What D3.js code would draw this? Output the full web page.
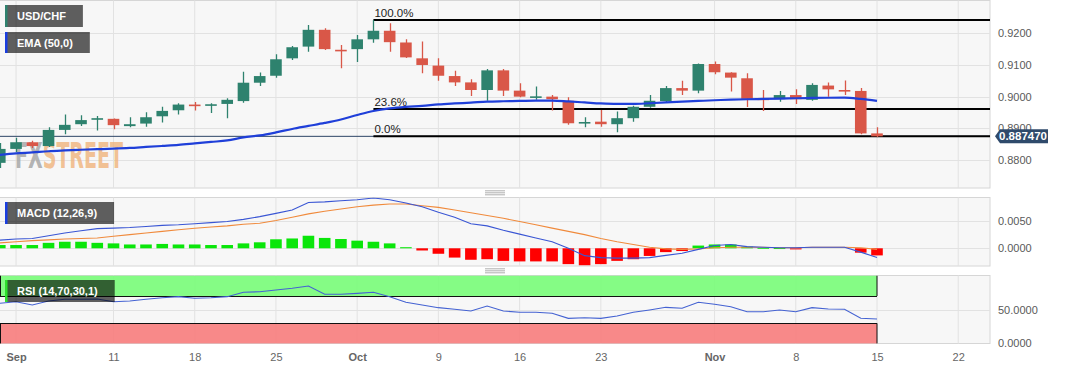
<!DOCTYPE html>
<html>
<head>
<meta charset="utf-8">
<script src="https://cdnjs.cloudflare.com/ajax/libs/d3/7.8.5/d3.min.js"></script>
<style>
html, body { margin: 0; padding: 0; background: #fff; }
svg { display: block; font-family: "Liberation Sans", Arial, sans-serif; }
</style>
</head>
<body>
<div id="chart"></div>
<script>
// Trading days shown (Aug 31 -> Nov 15, 2023)
const dates = ["08-31","09-01","09-04","09-05","09-06","09-07","09-08","09-11","09-12","09-13","09-14","09-15",
  "09-18","09-19","09-20","09-21","09-22","09-25","09-26","09-27","09-28","09-29","10-02","10-03","10-04","10-05","10-06",
  "10-09","10-10","10-11","10-12","10-13","10-16","10-17","10-18","10-19","10-20","10-23","10-24","10-25","10-26","10-27",
  "10-30","10-31","11-01","11-02","11-03","11-06","11-07","11-08","11-09","11-10","11-13","11-14","11-15"];

// OHLC values
const open = [.8791,.8835,.8856,.8844,.8895,.8913,.8930,.8930,.8907,.8915,.8938,.8957,.8975,.8972,.8977,.8986,.9044,.9066,.9121,.9158,
  .9211,.9148,.9150,.9181,.9208,.9171,.9121,.9098,.9065,.9045,.9021,.9083,.9019,.8999,.9000,.8987,.8918,.8921,.8913,.8932,
  .8968,.8986,.9027,.9019,.9103,.9076,.9058,.8994,.8992,.9005,.8990,.9035,.9021,.9018,.8884];
const high = [.8854,.8870,.8861,.8903,.8944,.8941,.8939,.8931,.8935,.8951,.8968,.8979,.8983,.8979,.8995,.9079,.9076,.9134,.9160,.9226,
  .9216,.9163,.9195,.9242,.9232,.9181,.9174,.9121,.9082,.9055,.9087,.9087,.9042,.9032,.9005,.8998,.8935,.8958,.8953,.8971,
  .9005,.9034,.9050,.9105,.9111,.9077,.9074,.9021,.9018,.9023,.9042,.9045,.9051,.9027,.8903];
const low = [.8775,.8825,.8838,.8841,.8881,.8907,.8893,.8897,.8903,.8905,.8918,.8944,.8956,.8948,.8932,.8981,.9034,.9060,.9116,.9142,
  .9147,.9090,.9109,.9170,.9142,.9122,.9074,.9050,.9034,.9002,.8987,.9002,.8998,.8990,.8956,.8911,.8903,.8905,.8888,.8921,
  .8965,.8981,.9005,.9011,.9071,.9016,.8967,.8955,.8984,.8977,.8987,.9000,.9005,.8881,.8873];
const close = [.8835,.8856,.8844,.8895,.8911,.8926,.8932,.8910,.8913,.8935,.8955,.8975,.8972,.8976,.8990,.9044,.9065,.9118,.9156,.9211,
  .9150,.9147,.9181,.9208,.9172,.9124,.9100,.9066,.9045,.9021,.9083,.9019,.9000,.9001,.8992,.8916,.8920,.8913,.8932,.8968,
  .8987,.9027,.9019,.9103,.9077,.9060,.8993,.8992,.9005,.8992,.9037,.9023,.9020,.8884,.88747];

// EMA (50)
const ema = [.88159,.88207,.88238,.88276,.88301,.88323,.88342,.88358,.88380,.88412,.88443,.88475,.88522,.88570,.88617,.88712,.88775,.88870,.88980,.89075,
  .89170,.89280,.89422,.89548,.89627,.89675,.89706,.89754,.89785,.89811,.89842,.89855,.89864,.89874,.89874,.89848,.89817,.89785,.89770,.89770,
  .89792,.89817,.89842,.89864,.89886,.89905,.89918,.89927,.89937,.89949,.89959,.89965,.89968,.89927,.89864];

// MACD (12,26,9)
const macdLine = [.0015,.0017,.0018,.0023,.0028,.0032,.0036,.0037,.0038,.0040,.0042,.0043,.0045,.0047,.0049,.0053,.0058,.0064,.0070,.0084,
  .0085,.0087,.0089,.0092,.0089,.0083,.0076,.0066,.0057,.0045,.0041,.0033,.0026,.0019,.0012,.0000,-.00135,-.0017,-.0018,-.0018,
  -.0017,-.0013,-.0009,-.0002,.0005,.0007,.0003,.0002,.0001,.0001,.0002,.0002,.0002,-.0007,-.0017];
const signalLine = [.0010,.0012,.0014,.00155,.0017,.0018,.0019,.0022,.0025,.0028,.0031,.0034,.00366,.0039,.0041,.0044,.0046,.0051,.0057,.0063,
  .0068,.0072,.0076,.0079,.0081,.0081,.0078,.0075,.0070,.0065,.0060,.0055,.0049,.0043,.0037,.0031,.0025,.0018,.0012,.0007,
  .0002,-.0001,-.0002,-.0001,.0001,.0002,.0002,.0002,.0001,.0001,.0002,.0002,.0002,.0001,-.0002];
const histogram = [.0006,.0006,.0006,.0010,.0012,.0012,.0010,.0009,.0007,.0007,.0008,.0007,.0007,.0006,.0006,.0009,.0011,.00165,.0018,.0023,
  .0019,.0017,.0014,.0012,.0009,.0002,-.0004,-.0010,-.0017,-.0021,-.0020,-.0023,-.0024,-.0024,-.0024,-.0029,-.0031,-.0029,-.0023,-.0020,
  -.0014,-.0007,-.0005,.0005,.0007,.0007,.0003,.0001,.00005,-.0002,0,0,0,-.0008,-.0013];

// RSI (14)
const rsi = [59.3,61.6,56.8,62.7,65.2,65.2,65.6,61.6,62.7,65.2,67.5,69,66.6,67.5,69,75.4,76.3,78.8,81.3,84.6,
  72.5,72.5,73.9,75.4,69,60.8,56.8,52.9,50.5,48,55.3,48,46.1,46.1,44.7,37.3,38.2,37.3,40.7,46.1,
  49.5,53.4,52,60.8,57.8,54.3,47,47,49.5,47,52.9,51,50.5,37.3,36.3];

// Fibonacci retracement
const fibLevels = [1.0, 0.236, 0.0];
const fibLabels = ["100.0%", "23.6%", "0.0%"];
const fibHigh = 0.9242, fibLow = 0.88747, fibStart = 23;
const lastPrice = 0.887470;

// Axis ticks
const priceTicks = [0.88, 0.89, 0.90, 0.91, 0.92];
const macdTicks = [0, 0.005];
const rsiTicks = [0, 50];
const tickIdx = [1, 7, 12, 17, 22, 27, 32, 37, 44, 49, 54, 59];
const tickLabels = ["Sep", "11", "18", "25", "Oct", "9", "16", "23", "Nov", "8", "15", "22"];

const W = 1067, H = 370, plotW = 990;
const panels = {
  main: { top: 0.5, bottom: 188 },
  macd: { top: 197.5, bottom: 266 },
  rsi: { top: 275.5, bottom: 343.5 }
};

const svg = d3.select("#chart").append("svg").attr("width", W).attr("height", H);

const x = d3.scaleLinear().domain([0, 54]).range([-0.2, 877]);
const yMain = d3.scaleLinear().domain([0.88, 0.92]).range([160, 33.3]);
const yMacd = d3.scaleLinear().domain([0, 0.005]).range([248.3, 221]);
const yRsi = d3.scaleLinear().domain([0, 100]).range([343.8, 275.5]);

const green = "#2e826e", red = "#d95748";
const bodyW = 11.6;

// Panel backgrounds, clips, grids
const defs = svg.append("defs");
Object.entries(panels).forEach(([k, p]) => {
  defs.append("clipPath").attr("id", "clip-" + k)
    .append("rect").attr("x", 0).attr("y", p.top).attr("width", plotW).attr("height", p.bottom - p.top);
  svg.append("rect").attr("x", -1).attr("y", p.top).attr("width", plotW + 1).attr("height", p.bottom - p.top)
    .attr("fill", "#f7f7f7").attr("stroke", "#d6d6d6");
  svg.append("g").selectAll("line").data(tickIdx).join("line")
    .attr("x1", d => x(d)).attr("x2", d => x(d))
    .attr("y1", p.top).attr("y2", p.bottom)
    .attr("stroke", "#e2e2e2");
});

function hGrid(ticks, y) {
  svg.append("g").selectAll("line").data(ticks).join("line")
    .attr("x1", 0).attr("x2", plotW)
    .attr("y1", d => Math.round(y(d)) + 0.5).attr("y2", d => Math.round(y(d)) + 0.5)
    .attr("stroke", "#e2e2e2");
}
hGrid(priceTicks, yMain);
hGrid(macdTicks, yMacd);
hGrid(rsiTicks.filter(d => d > 0), yRsi);

// ---------- Main panel ----------
const main = svg.append("g").attr("clip-path", "url(#clip-main)");

// watermark
const wm = main.append("text").attr("x", 15).attr("y", 168)
  .attr("font-family", "'Liberation Sans Narrow','DejaVu Sans Condensed',sans-serif")
  .attr("font-weight", "bold").attr("font-size", 36)
  .attr("textLength", 108).attr("lengthAdjust", "spacingAndGlyphs");
wm.append("tspan").text("FX").attr("fill", "#a2a2a2").attr("fill-opacity", 0.8);
wm.append("tspan").text("STREET").attr("fill", "#f0b27a").attr("fill-opacity", 0.8);

// current price line
main.append("line").attr("x1", 0).attr("x2", plotW)
  .attr("y1", yMain(lastPrice)).attr("y2", yMain(lastPrice))
  .attr("stroke", "#2c4466").attr("stroke-width", 1);

// fib lines
const fibPrice = l => fibLow + l * (fibHigh - fibLow);
main.append("g").selectAll("line").data(fibLevels).join("line")
  .attr("x1", x(fibStart)).attr("x2", plotW)
  .attr("y1", d => yMain(fibPrice(d))).attr("y2", d => yMain(fibPrice(d)))
  .attr("stroke", "#000").attr("stroke-width", 2);
main.append("g").selectAll("text").data(fibLevels).join("text")
  .attr("x", x(fibStart) + 1).attr("y", d => yMain(fibPrice(d)) - 3)
  .attr("font-size", 11.5).attr("fill", "#222")
  .text((d, i) => fibLabels[i]);

// candles
const idx = d3.range(dates.length);
const cg = main.append("g").selectAll("g").data(idx).join("g");
cg.append("line")
  .attr("x1", i => Math.round(x(i)) + 0.5).attr("x2", i => Math.round(x(i)) + 0.5)
  .attr("y1", i => yMain(high[i])).attr("y2", i => yMain(low[i]))
  .attr("stroke", i => close[i] >= open[i] ? green : red).attr("stroke-width", 1.3);
cg.append("rect")
  .attr("x", i => x(i) - bodyW / 2).attr("width", bodyW)
  .attr("y", i => yMain(Math.max(open[i], close[i])))
  .attr("height", i => Math.max(1.6, Math.abs(yMain(open[i]) - yMain(close[i]))))
  .attr("fill", i => close[i] >= open[i] ? green : red);

// EMA
main.append("path").datum(idx)
  .attr("d", d3.line().x(i => x(i)).y(i => yMain(ema[i])).curve(d3.curveMonotoneX))
  .attr("fill", "none").attr("stroke", "#1f3fd9").attr("stroke-width", 2.2);

// ---------- MACD panel ----------
const macdG = svg.append("g").attr("clip-path", "url(#clip-macd)");
macdG.append("g").selectAll("rect").data(idx).join("rect")
  .attr("x", i => x(i) - bodyW / 2).attr("width", bodyW)
  .attr("y", i => Math.min(yMacd(0), yMacd(histogram[i])))
  .attr("height", i => histogram[i] === 0 ? 0 : Math.max(1, Math.abs(yMacd(histogram[i]) - yMacd(0))))
  .attr("fill", i => histogram[i] >= 0 ? "#0ae60a" : "#ff0000");
macdG.append("path").datum(idx)
  .attr("d", d3.line().x(i => x(i)).y(i => yMacd(signalLine[i])))
  .attr("fill", "none").attr("stroke", "#f08a3c").attr("stroke-width", 1.1);
macdG.append("path").datum(idx)
  .attr("d", d3.line().x(i => x(i)).y(i => yMacd(macdLine[i])))
  .attr("fill", "none").attr("stroke", "#3a56d4").attr("stroke-width", 1.1);

// ---------- RSI panel ----------
const rsiG = svg.append("g").attr("clip-path", "url(#clip-rsi)");
const bands = [{ lo: 70, hi: 100, fill: "#7cfc7c", edge: 70 }, { lo: 0, hi: 30, fill: "#f88080", edge: 30 }];
const bandRight = x(54);
rsiG.append("g").selectAll("rect").data(bands).join("rect")
  .attr("x", 0).attr("width", bandRight)
  .attr("y", d => yRsi(d.hi)).attr("height", d => yRsi(d.lo) - yRsi(d.hi))
  .attr("fill", d => d.fill).attr("fill-opacity", 0.93);
// black outlines: threshold edge plus left/right sides
rsiG.append("g").selectAll("path").data(bands).join("path")
  .attr("d", d => {
    const a = yRsi(d.hi), b = yRsi(d.lo), e = Math.round(yRsi(d.edge)) + 0.5;
    return `M0.5,${a}V${b}M${bandRight},${a}V${b}M0,${e}H${bandRight}`;
  })
  .attr("fill", "none").attr("stroke", "#111").attr("stroke-width", 1);
rsiG.append("path").datum(idx)
  .attr("d", d3.line().x(i => x(i)).y(i => yRsi(rsi[i])))
  .attr("fill", "none").attr("stroke", "#4462d2").attr("stroke-width", 1.1);

// ---------- Right axes ----------
function rightAxis(scale, ticks, fmt) {
  const g = svg.append("g").attr("transform", `translate(${plotW},0)`)
    .call(d3.axisRight(scale).tickValues(ticks).tickSize(0).tickPadding(8).tickFormat(fmt));
  g.select(".domain").remove();
  g.selectAll("text").attr("font-size", 11).attr("fill", "#5a5a5a").attr("font-family", "'Liberation Sans', Arial, sans-serif");
}
rightAxis(yMain, priceTicks, d3.format(".4f"));
rightAxis(yMacd, macdTicks, d3.format(".4f"));
rightAxis(yRsi, [50], d3.format(".4f"));
// 0.0000 at the bottom of RSI sits just above the panel edge
svg.append("text").attr("x", plotW + 8).attr("y", yRsi(0) + 3.5)
  .attr("font-size", 11).attr("fill", "#5a5a5a").text(d3.format(".4f")(rsiTicks[0]));

// last price tag
const ly = yMain(lastPrice);
svg.append("path")
  .attr("d", `M${plotW + 5},${ly} L${plotW + 10},${ly - 7} L${plotW + 58},${ly - 7} L${plotW + 58},${ly + 7} L${plotW + 10},${ly + 7} Z`)
  .attr("fill", "#2f4a6b");
svg.append("text").attr("x", plotW + 9).attr("y", ly + 4)
  .attr("font-size", 11.5).attr("font-weight", "bold").attr("fill", "#fff")
  .text(lastPrice.toFixed(6));

// ---------- Bottom axis ----------
const xa = svg.append("g").attr("transform", "translate(0,345)")
  .call(d3.axisBottom(x).tickValues(tickIdx).tickSize(0).tickPadding(8).tickFormat((d, i) => tickLabels[i]));
xa.select(".domain").remove();
xa.selectAll("text").attr("font-size", 11).attr("fill", "#666")
  .attr("font-weight", (d, i) => isNaN(+tickLabels[i]) ? "bold" : "normal");

// ---------- Panel separators ----------
[192.8, 270.8].forEach(cy => {
  svg.append("g").selectAll("line").data([-2, 0, 2]).join("line")
    .attr("x1", 485).attr("x2", 505)
    .attr("y1", d => cy + d).attr("y2", d => cy + d)
    .attr("stroke", "#9a9a9a").attr("stroke-width", 0.8);
});

// ---------- Legend boxes ----------
function legendBox(x0, y0, h, label, color) {
  const g = svg.append("g");
  const bg = g.append("rect").attr("x", x0).attr("y", y0).attr("height", h).attr("fill", "rgba(0,0,0,0.62)");
  g.append("rect").attr("x", x0).attr("y", y0).attr("width", 2.5).attr("height", h).attr("fill", color);
  const t = g.append("text").attr("x", x0 + 12).attr("y", y0 + h / 2 + 4)
    .attr("font-size", 11).attr("font-weight", "bold").attr("fill", "#fff").text(label);
  bg.attr("width", t.node().getComputedTextLength() + 29);
}
legendBox(5, 5, 22, "USD/CHF", green);
legendBox(5, 32, 21, "EMA (50,0)", "#1a3ee0");
legendBox(5, 202, 22, "MACD (12,26,9)", "#1a3ee0");
legendBox(5, 280, 22, "RSI (14,70,30,1)", "#2ee02e");
</script>
</body>
</html>
